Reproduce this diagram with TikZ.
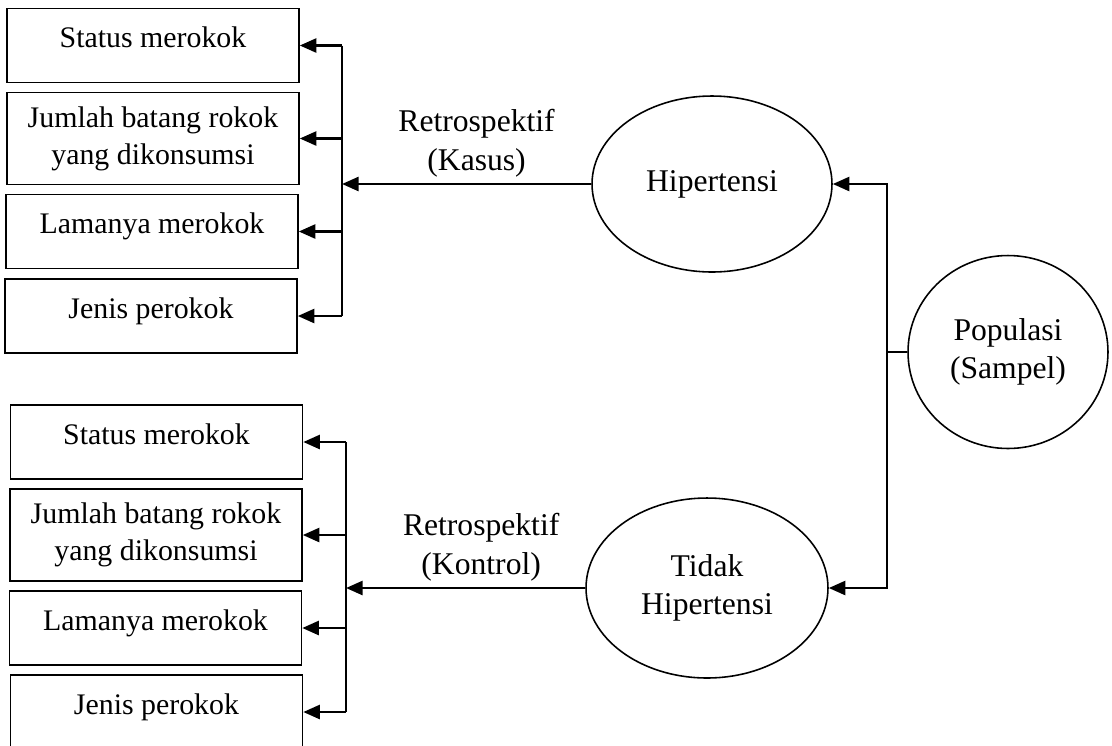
\documentclass[tikz,border=0pt]{standalone}
\usepackage{fontspec}
\setmainfont{Liberation Serif}
\usetikzlibrary{arrows.meta,shapes.geometric,positioning}
\tikzset{%
	factor/.style    = {draw, rectangle, line width=0.9pt, minimum width=5.84cm, inner sep=2pt, align=center, font=\fontsize{17pt}{21pt}\selectfont},
	oneline/.style   = {factor, minimum height=1.48cm, text height=0.43cm, text depth=0.35cm},
	twoline/.style   = {factor, minimum height=1.84cm},
	groupnode/.style = {draw, ellipse, line width=0.9pt, inner sep=0pt, align=center},
	arrow/.style     = {line width=1.5pt, -{Triangle[length=9.5pt,width=8pt]}},
	link/.style      = {line width=1.5pt},
}

\begin{document}
\begin{tikzpicture}[x=0.02cm,y=-0.02cm,font=\fontsize{18pt}{22pt}\selectfont]
	\useasboundingbox (0,0) rectangle (1112,745);
	
	% upper group (Kasus)
	\node[oneline] (sa1) at (153,45.5) {Status merokok};
	\node[twoline] (sa2) at (153,138.5) {Jumlah batang rokok\\yang dikonsumsi};
	\node[oneline] (sa3) at (152,231.5) {Lamanya merokok};
	\node[oneline] (sa4) at (151,316) {Jenis perokok};
	
	% lower group (Kontrol)
	\node[oneline] (sb1) at (156.5,442) {Status merokok};
	\node[twoline] (sb2) at (156,535) {Jumlah batang rokok\\yang dikonsumsi};
	\node[oneline] (sb3) at (155.5,628) {Lamanya merokok};
	\node[oneline] (sb4) at (156.5,712) {Jenis perokok};
	
	\node[groupnode, minimum width=4.8cm, minimum height=3.52cm] (hip) at (712,184) {Hipertensi};
	\node[groupnode, minimum width=4.84cm, minimum height=3.6cm] (tidak) at (707,588) {Tidak\\Hipertensi};
	\node[groupnode, minimum width=4cm, minimum height=3.86cm] (pop) at (1008,352) {Populasi\\(Sampel)};
	
	\coordinate (busa) at (342,185);
	\coordinate (busb) at (346,590);
	\coordinate (fork) at (887,352);
	
	\draw[arrow] (hip.west) -- node[above, align=center, pos=0.46] (kasus) {Retrospektif\\(Kasus)} (hip.west -| busa);
	\draw[link] (busa |- sa1.east) -- (busa |- sa4.east);
	\foreach \n in {sa1,sa2,sa3,sa4}
		\draw[arrow] (busa |- \n.east) -- (\n.east);
	
	\draw[arrow] (tidak.west) -- node[above, align=center, pos=0.435] (kontrol) {Retrospektif\\(Kontrol)} (tidak.west -| busb);
	\draw[link] (busb |- sb1.east) -- (busb |- sb4.east);
	\foreach \n in {sb1,sb2,sb3,sb4}
		\draw[arrow] (busb |- \n.east) -- (\n.east);
	
	\draw[line width=0.9pt] (pop.west) -- (fork);
	\draw[arrow] (fork) |- (hip.east);
	\draw[arrow] (fork) |- (tidak.east);
\end{tikzpicture}
\end{document}
